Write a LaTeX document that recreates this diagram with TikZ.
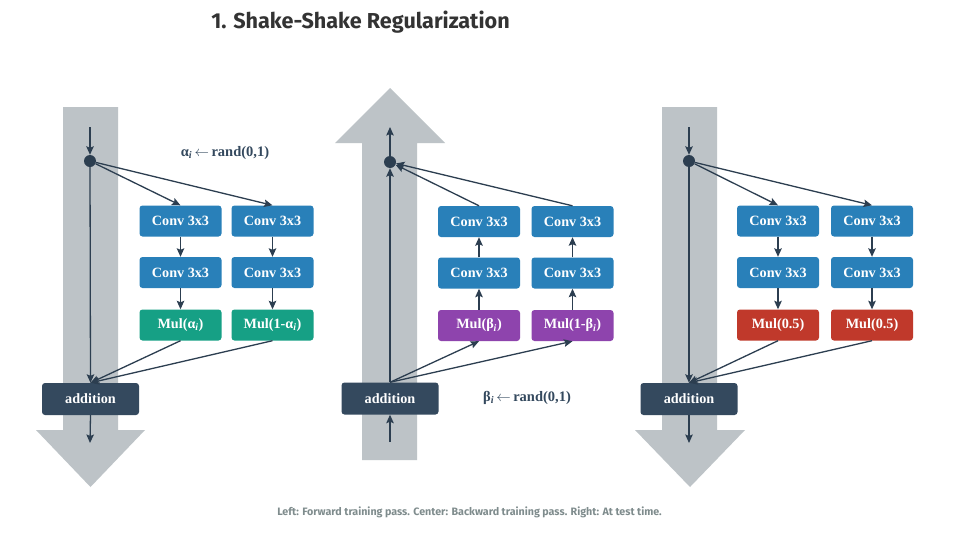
\documentclass[tikz,border=0pt]{standalone}
\usepackage{fontspec}
\setmainfont{Liberation Serif}
\newfontfamily\titlefont{Fira Sans}
\usetikzlibrary{arrows.meta}
\definecolor{bluec}{HTML}{2980B9}
\definecolor{tealc}{HTML}{16A085}
\definecolor{purplec}{HTML}{8E44AD}
\definecolor{redc}{HTML}{C0392B}
\definecolor{darkc}{HTML}{34495E}
\definecolor{arrowc}{HTML}{2C3E50}
\definecolor{grayc}{HTML}{BDC3C7}
\definecolor{titlec}{HTML}{333333}
\definecolor{capc}{HTML}{7F8C8D}
\newcommand{\larr}{\,$\leftarrow$\,}
\begin{document}
\begin{tikzpicture}[x=1pt,y=-1pt,
  box/.style={rounded corners=3pt, minimum width=82pt, minimum height=31pt, inner sep=0pt, text=white, font=\bfseries\fontsize{14.2}{16}\selectfont},
  conv/.style={box, fill=bluec},
  mulA/.style={box, fill=tealc},
  mulB/.style={box, fill=purplec},
  mulC/.style={box, fill=redc},
  addbox/.style={box, fill=darkc, minimum width=97pt, minimum height=32pt},
  junction/.style={circle, fill=arrowc, minimum size=12pt, inner sep=0pt},
  conn/.style={draw=arrowc, line width=1.3pt, -{Stealth[length=8.5pt,width=7.5pt,inset=1.5pt]}},
  flow/.style={fill=grayc},
  lbl/.style={text=darkc, font=\bfseries\fontsize{14.5}{16}\selectfont}
]
\useasboundingbox (0,0) rectangle (955,533);
\fill[white] (0,0) rectangle (955,533);

% title and caption
\node[text=titlec, font=\titlefont\bfseries\fontsize{21.6}{25}\selectfont] (title) at (360.5,22) {1. Shake-Shake Regularization};
\node[text=capc, font=\titlefont\bfseries\fontsize{10.7}{12}\selectfont] (caption) at (469.5,512) {Left: Forward training pass. Center: Backward training pass. Right: At test time.};

% gray flow arrows
\fill[flow] (63,107) -- (118,107) -- (118,430) -- (145,430) -- (90.5,487) -- (36,430) -- (63,430) -- cycle;
\fill[flow] (362,460) -- (417,460) -- (417,143) -- (445,143) -- (390,88) -- (335,143) -- (362,143) -- cycle;
\fill[flow] (662,107) -- (717,107) -- (717,430) -- (745,430) -- (690,487) -- (635,430) -- (662,430) -- cycle;

% ---------- left panel ----------
\coordinate (Ls) at (90,127);
\node[junction] (Ld) at (90,161) {};
\node[conv] (L11) at (180.5,221) {Conv 3x3};
\node[conv] (L12) at (272.5,221) {Conv 3x3};
\node[conv] (L21) at (180.5,272.5) {Conv 3x3};
\node[conv] (L22) at (272.5,272.5) {Conv 3x3};
\node[mulA] (L31) at (180.5,325) {Mul(α\textsubscript{\textit{i}})};
\node[mulA] (L32) at (272.5,325) {Mul(1-α\textsubscript{\textit{i}})};
\node[addbox] (La) at (90.5,399) {addition};
\coordinate (Le) at (90,443);
\node[lbl] (Llbl) at (225,153) {α\textsubscript{\textit{i}}\larr rand(0,1)};
\draw[conn] (Ls) -- (Ld);
\draw[conn] (Ld) -- (La.north);
\draw[conn] (Ld) -- (L11.north);
\draw[conn] (Ld) -- (L12.north);
\draw[conn] (L11) -- (L21);
\draw[conn] (L12) -- (L22);
\draw[conn] (L21) -- (L31);
\draw[conn] (L22) -- (L32);
\draw[conn] (L31.south) -- (La.north);
\draw[conn] (L32.south) -- (La.north);
\draw[conn] (La.south) -- (Le);

% ---------- center panel ----------
\coordinate (Cs) at (390,442);
\node[junction] (Cd) at (390,162) {};
\coordinate (Ce) at (390,127);
\node[conv] (C11) at (479,221.5) {Conv 3x3};
\node[conv] (C12) at (572.5,221.5) {Conv 3x3};
\node[conv] (C21) at (479,273) {Conv 3x3};
\node[conv] (C22) at (572.5,273) {Conv 3x3};
\node[mulB] (C31) at (479,325.5) {Mul(β\textsubscript{\textit{i}})};
\node[mulB] (C32) at (572.5,325.5) {Mul(1-β\textsubscript{\textit{i}})};
\node[addbox] (Ca) at (390,398.5) {addition};
\node[lbl] (Clbl) at (527,398) {β\textsubscript{\textit{i}}\larr rand(0,1)};
\draw[conn] (Cs) -- (Ca.south);
\draw[conn] (Ca.north) -- (Cd);
\draw[conn] (Cd) -- (Ce);
\draw[conn] (Ca.north) -- (C31.south);
\draw[conn] (Ca.north) -- (C32.south);
\draw[conn] (C31) -- (C21);
\draw[conn] (C32) -- (C22);
\draw[conn] (C21) -- (C11);
\draw[conn] (C22) -- (C12);
\draw[conn] (C11.north) -- (Cd);
\draw[conn] (C12.north) -- (Cd);

% ---------- right panel ----------
\coordinate (Rs) at (689,127);
\node[junction] (Rd) at (689,161) {};
\node[conv] (R11) at (778,221) {Conv 3x3};
\node[conv] (R12) at (872,221) {Conv 3x3};
\node[conv] (R21) at (778,272.5) {Conv 3x3};
\node[conv] (R22) at (872,272.5) {Conv 3x3};
\node[mulC] (R31) at (778,325) {Mul(0.5)};
\node[mulC] (R32) at (872,325) {Mul(0.5)};
\node[addbox] (Ra) at (689,399) {addition};
\coordinate (Re) at (689,443);
\draw[conn] (Rs) -- (Rd);
\draw[conn] (Rd) -- (Ra.north);
\draw[conn] (Rd) -- (R11.north);
\draw[conn] (Rd) -- (R12.north);
\draw[conn] (R11) -- (R21);
\draw[conn] (R12) -- (R22);
\draw[conn] (R21) -- (R31);
\draw[conn] (R22) -- (R32);
\draw[conn] (R31.south) -- (Ra.north);
\draw[conn] (R32.south) -- (Ra.north);
\draw[conn] (Ra.south) -- (Re);
\end{tikzpicture}
\end{document}
